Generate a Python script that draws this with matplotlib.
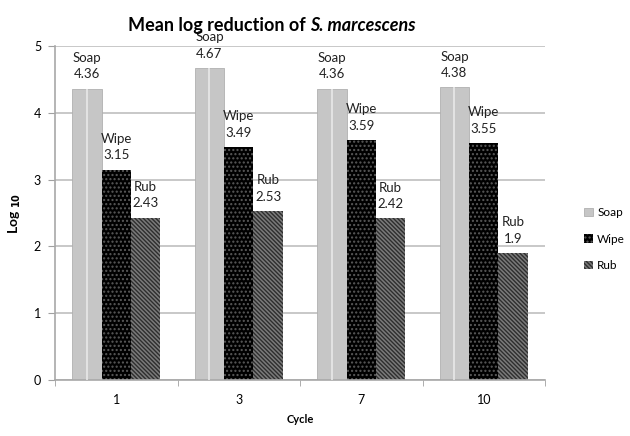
import numpy as np
import matplotlib
matplotlib.use("Agg")
import matplotlib.pyplot as plt

plt.rcParams["font.family"] = ["Lato", "DejaVu Sans"]

cycles = ["1", "3", "7", "10"]
soap = [4.36, 4.67, 4.36, 4.38]
wipe = [3.15, 3.49, 3.59, 3.55]
rub = [2.43, 2.53, 2.42, 1.9]

fig = plt.figure(figsize=(6.3, 4.36), dpi=100)
ax = fig.add_axes([55 / 630, 1 - 380 / 436, 490 / 630, 334 / 436])

x = np.arange(len(cycles))
w = 0.24

ax.yaxis.grid(True, color="#c4c4c4", linewidth=1.3)
ax.set_axisbelow(True)

b1 = ax.bar(x - w, soap, w, color="#c6c6c6", edgecolor="#b0b0b0", linewidth=0.6,
            label="Soap", zorder=2)
ax.vlines(x - w, 0, soap, color="#e8e8e8", linewidth=1.2, zorder=3)
b2 = ax.bar(x, wipe, w, color="black", edgecolor="#5a5a5a", hatch="....",
            linewidth=0, label="Wipe", zorder=2)
b3 = ax.bar(x + w, rub, w, color="#7a7a7a", edgecolor="#2e2e2e", hatch="\\\\\\\\\\\\\\\\",
            linewidth=0, label="Rub", zorder=2)

for bars, name in [(b1, "Soap"), (b2, "Wipe"), (b3, "Rub")]:
    for r in bars:
        v = r.get_height()
        txt = "1.9" if v == 1.9 else f"{v:.2f}"
        ax.annotate(f"{name}\n{txt}", (r.get_x() + r.get_width() / 2, v),
                    xytext=(0, 6), textcoords="offset points", ha="center",
                    va="bottom", fontsize=9.5, linespacing=1.45, color="#222222")

ax.set_xlim(-0.5, len(cycles) - 0.5)
ax.set_ylim(0, 5)
ax.set_yticks(range(6))
ax.set_xticks(x)
ax.set_xticklabels(cycles)
ax.set_xticks(np.arange(-0.5, len(cycles)), minor=True)
ax.tick_params(axis="x", which="major", length=0, labelsize=9, pad=10)
ax.tick_params(axis="x", which="minor", length=4, color="#a0a0a0")
ax.tick_params(axis="y", length=5, color="#a0a0a0", labelsize=9, pad=5)

for s in ["top", "right"]:
    ax.spines[s].set_visible(False)
for s in ["left", "bottom"]:
    ax.spines[s].set_color("#a8a8a8")
    ax.spines[s].set_linewidth(1.2)

ax.set_xlabel("Cycle", fontsize=8, fontweight="bold", labelpad=6)
ax.set_ylabel(r"Log $_{\mathbf{10}}$", fontsize=10, fontweight="bold", labelpad=8)

# title with bold italic species name
t1 = fig.text(0.5, 0.93, "Mean log reduction of ", fontsize=13, fontweight="bold",
              ha="left", va="baseline")
t2 = fig.text(0.5, 0.93, "S. marcescens", fontsize=13, fontweight="bold",
              style="italic", ha="left", va="baseline")
fig.canvas.draw()
r = fig.canvas.get_renderer()
w1 = t1.get_window_extent(r).width
w2 = t2.get_window_extent(r).width
x0 = 272 - (w1 + w2) / 2
t1.set_x(x0 / 630)
t2.set_x((x0 + w1) / 630)

fig.legend(handles=[b1, b2, b3], loc="center left", bbox_to_anchor=(576 / 630, 1 - 239 / 436),
           frameon=False, fontsize=8.5, handlelength=0.7, handleheight=0.7,
           handletextpad=0.4, labelspacing=1.3, borderpad=0.2)

fig.savefig("out.png", dpi=100)
